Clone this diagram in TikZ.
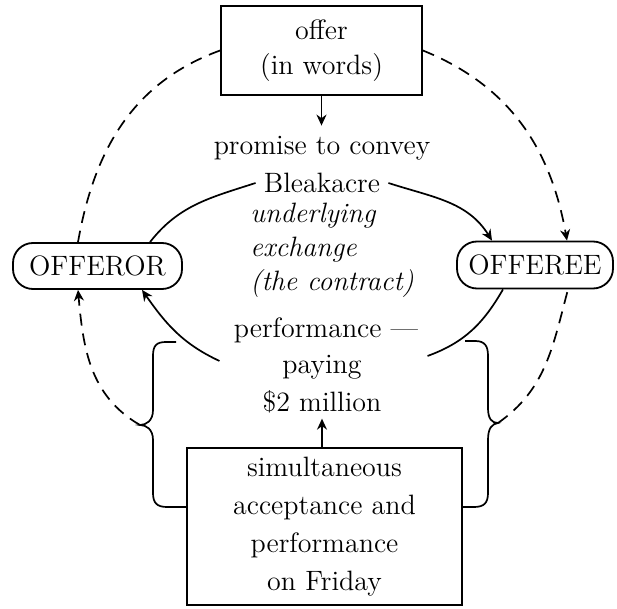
\documentclass[tikz,border=0pt]{standalone}
\usetikzlibrary{arrows.meta}
\begin{document}
\begin{tikzpicture}[x=0.5pt,y=-0.5pt,
  txt/.style={font=\fontsize{14}{17.5}\selectfont, inner sep=1pt},
  box/.style={draw, line width=0.9pt, txt, align=center},
  pill/.style={draw, line width=0.9pt, rounded corners=10pt, txt},
  con/.style={line width=0.85pt},
  dsh/.style={con, dash pattern=on 6pt off 4pt},
  tip/.style={-{Stealth[length=5.5pt,width=5pt]}}]
\useasboundingbox (0,0) rectangle (617,609);
% nodes
\node[box, minimum width=100.5pt, minimum height=44.5pt] (offer) at (321.5,50.5) {offer\\(in words)};
\node[txt] (promise) at (322,148) {promise to convey};
\node[txt] (bleak) at (322,183) {Bleakacre};
\node[txt, anchor=west, align=left, font=\itshape\fontsize{14}{17}\selectfont] (ital) at (248,250) {underlying\\exchange\\(the contract)};
\node[pill, minimum width=84.5pt, minimum height=23pt] (offeror) at (97.5,266) {OFFEROR};
\node[pill, minimum width=78pt, minimum height=23.5pt] (offeree) at (535,265) {OFFEREE};
\node[txt] (perf) at (326,330) {performance ---};
\node[txt] (paying) at (322,367) {paying};
\node[txt] (million) at (322,402) {\$2 million};
\node[box, minimum width=137.5pt, minimum height=78.5pt, font=\fontsize{14}{19}\selectfont] (bottom) at (324.5,526.5) {simultaneous\\acceptance and\\performance\\on Friday};
\coordinate (ltip) at (140,425);
\coordinate (rtip) at (498,423);
% connectors
\draw[con,tip] (offer.south) -- ([yshift=4pt]offer.south |- promise.north);
\draw[con,tip] (million.south |- bottom.north) -- ([yshift=-1.5pt]million.south);
\draw[dsh] (offer.west) to[out=200,in=80] ([xshift=-9.75pt]offeror.north);
\draw[dsh,tip] (offer.east) to[out=-22,in=100] ([xshift=16pt]offeree.north);
\draw[con] ([xshift=-3pt]bleak.west) to[out=198,in=52] ([xshift=26.25pt]offeror.north);
\draw[con,tip] ([xshift=3pt]bleak.east) to[out=-18,in=122] ([xshift=-21.5pt]offeree.north);
\draw[con,tip] ([xshift=-6pt,yshift=-8pt]perf.south west) to[out=155,in=-55] ([xshift=22.25pt]offeror.south);
\draw[con] ([xshift=3.5pt,yshift=-5.5pt]perf.south east) to[out=20,in=-120] ([xshift=-16pt]offeree.south);
\draw[dsh,tip] (ltip) to[out=150,in=-85] ([xshift=-9.75pt]offeror.south);
\draw[dsh] (rtip) to[out=35,in=-105] ([xshift=16.5pt]offeree.south);
% braces
\draw[con] (176,342) -- (166,342) .. controls (156,342) and (153,346) .. (153,356) -- (153,410)
  .. controls (153,421) and (146,425) .. (ltip) .. controls (146,425) and (153,429) .. (153,440)
  -- (153,493) .. controls (153,503) and (157,507) .. (167,507) -- ([yshift=9.75pt]bottom.west);
\draw[con] (465,341) -- (475,341) .. controls (485,341) and (488,346) .. (488,356) -- (488,408)
  .. controls (488,419) and (492,423) .. (rtip) .. controls (492,424) and (488,428) .. (488,440)
  -- (488,493) .. controls (488,503) and (484,507) .. (474,507) -- ([yshift=9.75pt]bottom.east);
\end{tikzpicture}
\end{document}
